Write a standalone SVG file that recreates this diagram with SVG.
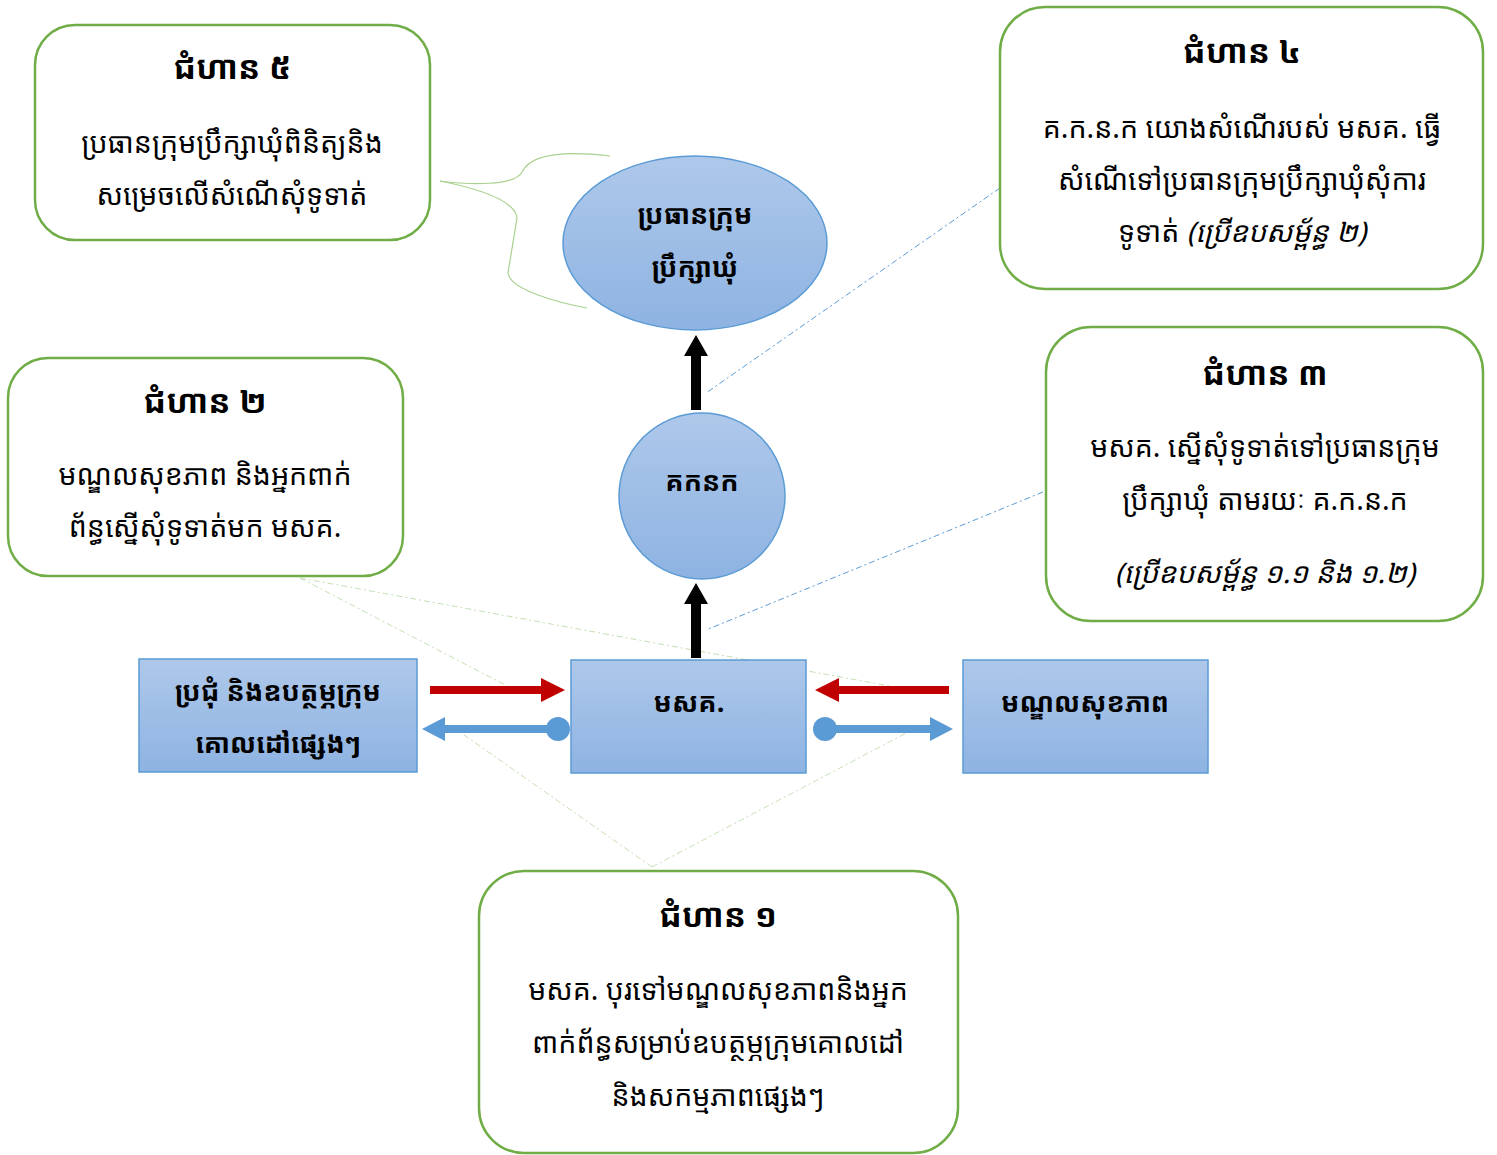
<svg xmlns="http://www.w3.org/2000/svg" width="1497" height="1155" viewBox="0 0 1497 1155">
<defs>
<linearGradient id="bg" x1="0" y1="0" x2="0" y2="1">
<stop offset="0" stop-color="#AEC8EA"/>
<stop offset="1" stop-color="#8EB3E2"/>
</linearGradient>
<style>
.box{fill:#fff;stroke:#70AD47;stroke-width:2.5}
.node{fill:url(#bg);stroke:#5B9BD5;stroke-width:1.5}
text{font-family:"Noto Sans Khmer","Khmer OS","Khmer OS System","Noto Sans","DejaVu Sans",sans-serif;fill:#000;text-anchor:middle}
.t{font-size:33px;font-weight:bold}
.b{font-size:28.5px}
.i{font-style:italic}
.n{font-size:27px;font-weight:bold}
.cg{fill:none;stroke:#C5E0B4;stroke-width:1;stroke-dasharray:6 3 2 3}
.cb{fill:none;stroke:#5B9BD5;stroke-width:1;stroke-dasharray:6 3 2 3}
.br{fill:none;stroke:#A9D18E;stroke-width:1.2}
</style>
</defs>
<g id="connectors">
<path class="br" d="M440,181 C470,185 515,186 522,172 C530,155 560,150 610,156"/>
<path class="br" d="M440,181 C475,188 515,200 517,218 L508,273 C510,290 560,303 587,308"/>
<path class="cb" d="M1000,188 L706,393"/>
<path class="cb" d="M1043,492 L706,630"/>
<path class="cg" d="M300,578 L509,687"/>
<path class="cg" d="M300,578 L895,687"/>
<path class="cg" d="M652,867 L457,730"/>
<path class="cg" d="M652,867 L912,730"/>
<polygon fill="#000" points="691,410 701,410 701,356 708,356 696,335 684,356 691,356"/>
<polygon fill="#000" points="691,658 701,658 701,604 708,604 696,583 684,604 691,604"/>
<polygon fill="#C00000" points="430,686 541,686 541,678 565,690 541,702 541,694 430,694"/>
<polygon fill="#C00000" points="949,686 839,686 839,678 815,690 839,702 839,694 949,694"/>
<polygon fill="#5B9BD5" points="558,725 445,725 445,717 422,729 445,741 445,733 558,733"/>
<circle cx="558" cy="729" r="12" fill="#5B9BD5"/>
<polygon fill="#5B9BD5" points="825,725 930,725 930,717 953,729 930,741 930,733 825,733"/>
<circle cx="825" cy="729" r="12" fill="#5B9BD5"/>
</g>
<g id="n-council">
<ellipse class="node" cx="695" cy="243" rx="132" ry="87"/>
<text class="n" x="695" y="224">ប្រធានក្រុម</text>
<text class="n" x="695" y="277">ប្រឹក្សាឃុំ</text>
</g>
<g id="n-gknk">
<circle class="node" cx="702" cy="496" r="83"/>
<text class="n" x="702" y="491">គកនក</text>
</g>
<g id="n-msk">
<rect class="node" x="571" y="660" width="235" height="113"/>
<text class="n" x="689" y="712">មសគ.</text>
</g>
<g id="n-meeting">
<rect class="node" x="139" y="659" width="278" height="113"/>
<text class="n" x="278" y="701">ប្រជុំ និងឧបត្ថម្ភក្រុម</text>
<text class="n" x="278" y="753">គោលដៅផ្សេងៗ</text>
</g>
<g id="n-health">
<rect class="node" x="963" y="660" width="245" height="113"/>
<text class="n" x="1085" y="712">មណ្ឌលសុខភាព</text>
</g>
<g id="step5">
<rect class="box" x="35" y="25" width="395" height="215" rx="40"/>
<text class="t" x="232" y="79">ជំហាន ៥</text>
<text class="b" x="232" y="153">ប្រធានក្រុមប្រឹក្សាឃុំពិនិត្យនិង</text>
<text class="b" x="232" y="205">សម្រេចលើសំណើសុំទូទាត់</text>
</g>
<g id="step4">
<rect class="box" x="1000" y="7" width="483" height="282" rx="45"/>
<text class="t" x="1242" y="63">ជំហាន ៤</text>
<text class="b" x="1242" y="138">គ.ក.ន.ក យោងសំណើរបស់ មសគ. ធ្វើ</text>
<text class="b" x="1242" y="190">សំណើទៅប្រធានក្រុមប្រឹក្សាឃុំសុំការ</text>
<text class="b" x="1242" y="242">ទូទាត់ <tspan class="i">(ប្រើឧបសម្ព័ន្ធ ២)</tspan></text>
</g>
<g id="step2">
<rect class="box" x="8" y="358" width="395" height="218" rx="40"/>
<text class="t" x="205" y="413">ជំហាន ២</text>
<text class="b" x="205" y="485">មណ្ឌលសុខភាព និងអ្នកពាក់</text>
<text class="b" x="205" y="537">ព័ន្ធស្នើសុំទូទាត់មក មសគ.</text>
</g>
<g id="step3">
<rect class="box" x="1046" y="327" width="437" height="294" rx="45"/>
<text class="t" x="1265" y="385">ជំហាន ៣</text>
<text class="b" x="1265" y="457">មសគ. ស្នើសុំទូទាត់ទៅប្រធានក្រុម</text>
<text class="b" x="1265" y="510">ប្រឹក្សាឃុំ តាមរយៈ គ.ក.ន.ក</text>
<text class="b i" x="1265" y="583">(ប្រើឧបសម្ព័ន្ធ ១.១ និង ១.២)</text>
</g>
<g id="step1">
<rect class="box" x="479" y="871" width="479" height="282" rx="45"/>
<text class="t" x="718" y="927">ជំហាន ១</text>
<text class="b" x="718" y="1000">មសគ. បុរទៅមណ្ឌលសុខភាពនិងអ្នក</text>
<text class="b" x="718" y="1053">ពាក់ព័ន្ធសម្រាប់ឧបត្ថម្ភក្រុមគោលដៅ</text>
<text class="b" x="718" y="1106">និងសកម្មភាពផ្សេងៗ</text>
</g>
</svg>
